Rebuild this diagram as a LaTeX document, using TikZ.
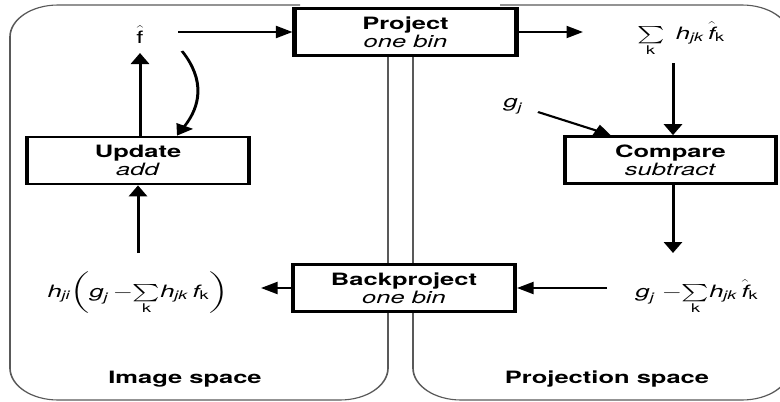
\documentclass[tikz,border=0pt]{standalone}
\usepackage{amsmath}
\usepackage{fontspec}
\setmainfont{TeX Gyre Heros}
\setsansfont{TeX Gyre Heros}
\usetikzlibrary{arrows.meta}

% italic letters and subscripts in the sans face
\newcommand\mv[1]{\mbox{\itshape #1}}
\newcommand\ms[1]{\mbox{\fontsize{12}{12}\selectfont\itshape #1}}
\newcommand\mk{\mbox{\fontsize{12}{12}\selectfont k}}
\newcommand\fh{\hat{\mv{f}}}

\tikzset{
  panel/.style={draw=black!65, line width=1.1pt, rounded corners=32pt},
  stepbox/.style={draw, fill=white, line width=2.7pt, minimum width=148pt,
    minimum height=47pt, inner sep=0pt, align=center,
    font=\fontsize{17}{18}\selectfont},
  term/.style={inner sep=1pt, anchor=base, font=\fontsize{17}{18}\selectfont},
  spacename/.style={inner sep=1pt, anchor=base, font=\fontsize{17}{18}\selectfont\bfseries},
  arr/.style={line width=2pt, -{Triangle[length=11pt, width=12pt]}},
}

\begin{document}
\begin{tikzpicture}
\useasboundingbox (0,0) rectangle (780pt,-402pt);
\clip (0,0) rectangle (780pt,-402pt);
\begin{scope}[transform canvas={xscale=1.5}, x=0.666667pt, y=-1pt]

  % the two spaces
  \draw[panel] (300,5) -- (10,5) -- (10,400) -- (388,400) -- (388,20);
  \draw[panel] (500,5) -- (790,5) -- (790,400) -- (413,400) -- (413,20);

  % processing steps
  \node[stepbox] (project) at (405.5,32) {\textbf{Project}\\\textit{one bin}};
  \node[stepbox] (update) at (138,160.5) {\textbf{Update}\\\textit{add}};
  \node[stepbox, minimum width=141pt] (compare) at (670.5,160) {\textbf{Compare}\\\textit{subtract}};
  \node[stepbox] (backproject) at (404,288) {\textbf{Backproject}\\\textit{one bin}};

  % quantities
  \node[term] (fhat) at (140,43) {$\hat{\mbox{f}}$};
  \node[term] (sumtop) at (681,39) {$\sum\limits_{\mk}\;\mv{h}_{\ms{jk}}\,\fh_{\mk}$};
  \node[term] (gj) at (513,107) {$\mv{g}_{\ms{j}}$};
  \node[term] (hexpr) at (138,297) {$\mv{h}_{\ms{ji}}\!\left(\mv{g}_{\ms{j}}\,{-}\!\sum\limits_{\mk}\!\mv{h}_{\ms{jk}}\,\mv{f}_{\mk}\right)$};
  \node[term] (gexpr) at (697,297) {$\mv{g}_{\ms{j}}\;{-}\!\sum\limits_{\mk}\!\mv{h}_{\ms{jk}}\,\fh_{\mk}$};

  \node[spacename] (imgsp) at (185,383) {Image space};
  \node[spacename] (projsp) at (607,383) {Projection space};

  % loose ends of the connectors
  \coordinate (fout) at (178,32);
  \coordinate (fin) at (140,53);
  \coordinate (cstart) at (182,51);
  \coordinate (hup) at (138,253);
  \coordinate (hin) at (261,288);
  \coordinate (sin) at (583,32);
  \coordinate (sout) at (673,63);
  \coordinate (gout) at (538,112);
  \coordinate (gdown) at (673,253);
  \coordinate (gleft) at (607,288);

  % connectors
  \draw[arr] (fout) -- (project.west);
  \draw[arr] (update.north -| fin) -- (fin);
  \draw[arr] (cstart) to[out=-62, in=62] ([xshift=26pt]update.north);
  \draw[arr] (hup) -- (update.south);
  \draw[arr] (backproject.west) -- (hin);
  \draw[arr] (project.east) -- (sin);
  \draw[arr] (sout) -- (sout |- compare.north);
  \draw[arr] (gout) -- ([xshift=32pt]compare.north west);
  \draw[arr] (compare.south -| gdown) -- (gdown);
  \draw[arr] (gleft) -- (backproject.east);

\end{scope}
\end{tikzpicture}
\end{document}
